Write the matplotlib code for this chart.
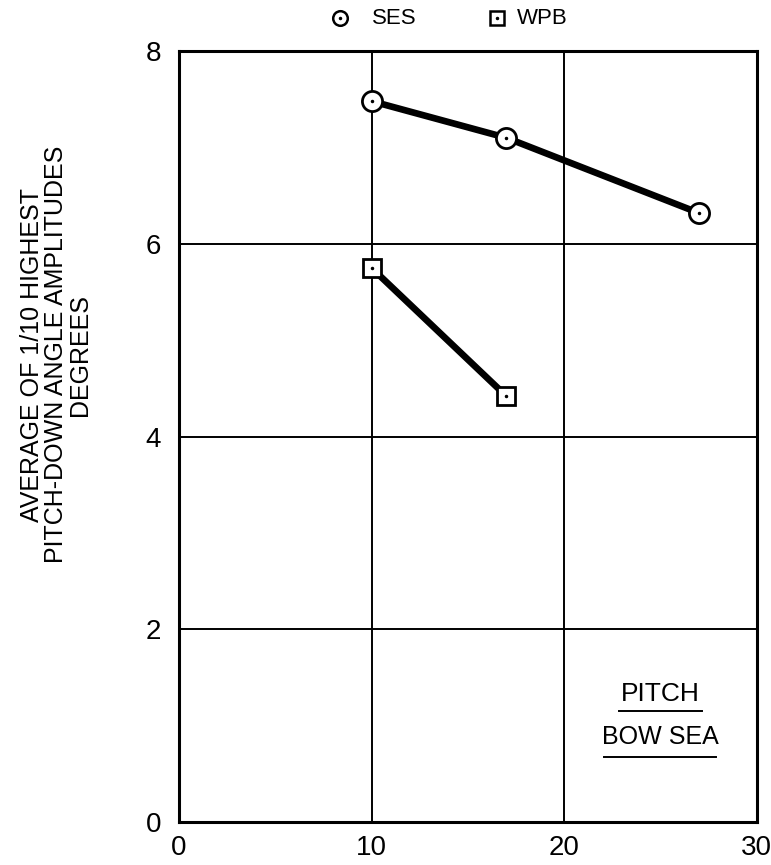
import numpy as np
import matplotlib
matplotlib.use("Agg")
import matplotlib.pyplot as plt

plt.rcParams['font.family'] = ['Liberation Sans', 'DejaVu Sans']

# data
ses_x = [10, 17, 27]
ses_y = [7.48, 7.1, 6.32]
wpb_x = [10, 17]
wpb_y = [5.75, 4.42]
x_ticks = [0, 10, 20, 30]
y_ticks = [0, 2, 4, 6, 8]
y_label = "AVERAGE OF 1/10 HIGHEST\nPITCH-DOWN ANGLE AMPLITUDES\nDEGREES"


def main():
    fig = plt.figure(figsize=(7.71, 8.65), dpi=100)
    ax = fig.add_axes([0.2322, 0.0497, 0.749, 0.8913])

    ax.set_xlim(0, 30)
    ax.set_ylim(0, 8)
    ax.set_xticks(x_ticks)
    ax.set_yticks(y_ticks)
    ax.tick_params(length=0, labelsize=20)
    ax.tick_params(axis='y', pad=13)
    ax.tick_params(axis='x', pad=9)
    for s in ax.spines.values():
        s.set_linewidth(2.2)
    ax.grid(True, color='black', linewidth=1.4)
    ax.set_axisbelow(True)

    ax.plot(ses_x, ses_y, color='black', lw=4.8, zorder=3)
    ax.plot(wpb_x, wpb_y, color='black', lw=4.8, zorder=3)
    ax.plot(ses_x, ses_y, 'o', ms=14.5, mfc='white', mec='black', mew=2, zorder=4)
    ax.plot(wpb_x, wpb_y, 's', ms=13, mfc='white', mec='black', mew=2, zorder=4)
    ax.plot(ses_x + wpb_x, ses_y + wpb_y, '.', ms=3, color='black', zorder=5)

    # notes in the lower right
    ax.text(25.0, 1.33, "PITCH", fontsize=19, ha='center', va='center')
    ax.plot([22.85, 27.15], [1.15, 1.15], color='black', lw=1.4)
    ax.text(25.0, 0.88, "BOW SEA", fontsize=18, ha='center', va='center')
    ax.plot([22.1, 27.9], [0.67, 0.67], color='black', lw=1.4)

    # legend above the axes
    fig.text(0.4825, 0.979, "SES", fontsize=16, ha='left', va='center')
    fig.text(0.671, 0.979, "WPB", fontsize=16, ha='left', va='center')
    lax = fig.add_axes([0, 0.96, 1, 0.038])
    lax.set_xlim(0, 1)
    lax.set_ylim(0, 1)
    lax.axis('off')
    lax.plot([0.441], [0.5], 'o', ms=10.5, mfc='white', mec='black', mew=1.8)
    lax.plot([0.441], [0.5], '.', ms=3, color='black')
    lax.plot([0.645], [0.5], 's', ms=10, mfc='white', mec='black', mew=1.8)
    lax.plot([0.645], [0.5], '.', ms=3, color='black')

    fig.text(0.072, 0.59, y_label, fontsize=18, rotation=90,
             ha='center', va='center', multialignment='center', linespacing=1.0)

    fig.savefig("out.png", dpi=100)


if __name__ == '__main__':
    main()
